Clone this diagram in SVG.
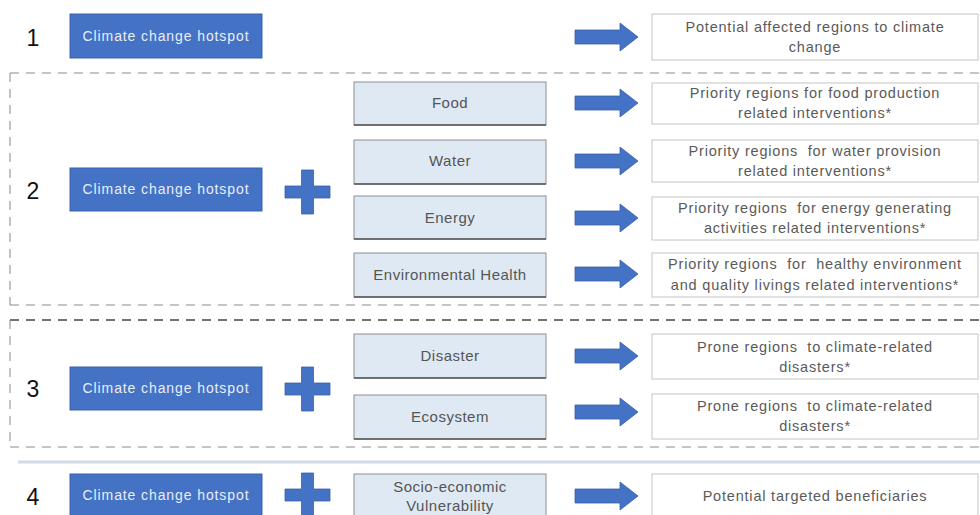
<svg xmlns="http://www.w3.org/2000/svg" xmlns:xlink="http://www.w3.org/1999/xlink" width="980" height="515" viewBox="0 0 980 515">
<style>
.num{font-family:"Liberation Sans",Arial,sans-serif;font-size:23px;fill:#111;text-anchor:middle}
.hot rect{fill:#4472C4;stroke:#3a63ad;stroke-width:1}
.hot text{font-family:"Liberation Sans",Arial,sans-serif;font-size:14px;letter-spacing:0.9px;fill:#e8eefa;text-anchor:middle}
.cat rect{fill:#dfe9f4;stroke:#8e8e8e;stroke-width:1}
.cat line{stroke:#555;stroke-width:1.5}
.cat text{font-family:"Liberation Sans",Arial,sans-serif;font-size:15px;letter-spacing:0.5px;fill:#555;text-anchor:middle}
.out rect{fill:#fff;stroke:#c4c4c4;stroke-width:1}
.out text{font-family:"Liberation Sans",Arial,sans-serif;font-size:14.5px;letter-spacing:0.8px;fill:#5a5a5a;text-anchor:middle;white-space:pre}
.dash{fill:none;stroke:#8a8a8a;stroke-width:1;stroke-dasharray:9 7}
.dashk{fill:none;stroke:#444;stroke-width:1.5;stroke-dasharray:9 7}
.blue{fill:#4472C4;stroke:#3760aa;stroke-width:0.8}
</style>
<defs>
<path id="arr" d="M0,-7 h45 v-7 l18,14 l-18,14 v-7 h-45 z"/>
<path id="plus" d="M-6,-22 h12 v16 h16.5 v12 h-16.5 v16 h-12 v-16 h-16.5 v-12 h16.5 z"/>
</defs>
<rect width="980" height="515" fill="#fff"/>

<!-- section frames -->
<g id="frames">
<line class="dash" x1="10" y1="73" x2="980" y2="73"/>
<line class="dash" x1="10" y1="73" x2="10" y2="305"/>
<line class="dash" x1="10" y1="305" x2="980" y2="305"/>
<line class="dashk" x1="10" y1="320" x2="980" y2="320"/>
<line class="dash" x1="10" y1="320" x2="10" y2="447"/>
<line class="dash" x1="10" y1="447" x2="980" y2="447"/>
<line x1="18" y1="462" x2="980" y2="462" stroke="#d3dae6" stroke-width="3"/>
</g>

<!-- numbers -->
<text class="num" x="33" y="46">1</text>
<text class="num" x="33" y="199">2</text>
<text class="num" x="33" y="397">3</text>
<text class="num" x="33" y="505">4</text>

<!-- hotspot nodes -->
<g id="hot1" class="hot"><rect x="70" y="14" width="192" height="44"/><text x="166" y="41">Climate change hotspot</text></g>
<g id="hot2" class="hot"><rect x="70" y="168" width="192" height="43"/><text x="166" y="194">Climate change hotspot</text></g>
<g id="hot3" class="hot"><rect x="70" y="367" width="192" height="43"/><text x="166" y="393">Climate change hotspot</text></g>
<g id="hot4" class="hot"><rect x="70" y="474" width="192" height="44"/><text x="166" y="500">Climate change hotspot</text></g>

<!-- plus signs -->
<g id="plus2"><use xlink:href="#plus" href="#plus" class="blue" x="307.5" y="192"/></g>
<g id="plus3"><use xlink:href="#plus" href="#plus" class="blue" x="307.5" y="389"/></g>
<g id="plus4"><use xlink:href="#plus" href="#plus" class="blue" x="307.5" y="495"/></g>

<!-- category nodes -->
<g id="food" class="cat"><rect x="354" y="82" width="192" height="43"/><line x1="354" y1="125" x2="546" y2="125"/><text x="450" y="108">Food</text></g>
<g id="water" class="cat"><rect x="354" y="140" width="192" height="44"/><line x1="354" y1="184" x2="546" y2="184"/><text x="450" y="166">Water</text></g>
<g id="energy" class="cat"><rect x="354" y="196" width="192" height="43"/><line x1="354" y1="239" x2="546" y2="239"/><text x="450" y="223">Energy</text></g>
<g id="envhealth" class="cat"><rect x="354" y="253" width="192" height="44"/><line x1="354" y1="297" x2="546" y2="297"/><text x="450" y="280">Environmental Health</text></g>
<g id="disaster" class="cat"><rect x="354" y="334" width="192" height="44"/><line x1="354" y1="378" x2="546" y2="378"/><text x="450" y="361">Disaster</text></g>
<g id="ecosystem" class="cat"><rect x="354" y="395" width="192" height="44"/><line x1="354" y1="439" x2="546" y2="439"/><text x="450" y="422">Ecosystem</text></g>
<g id="socio" class="cat"><rect x="354" y="474" width="192" height="45"/><text x="450" y="492">Socio-economic</text><text x="450" y="511">Vulnerability</text></g>

<!-- connectors -->
<g id="connectors" class="blue">
<use xlink:href="#arr" href="#arr" x="575" y="37"/>
<use xlink:href="#arr" href="#arr" x="575" y="103"/>
<use xlink:href="#arr" href="#arr" x="575" y="161"/>
<use xlink:href="#arr" href="#arr" x="575" y="218"/>
<use xlink:href="#arr" href="#arr" x="575" y="274"/>
<use xlink:href="#arr" href="#arr" x="575" y="356"/>
<use xlink:href="#arr" href="#arr" x="575" y="412"/>
<use xlink:href="#arr" href="#arr" x="575" y="496"/>
</g>

<!-- output nodes -->
<g id="out1" class="out"><rect x="652" y="14" width="326" height="46"/><text x="815" y="32">Potential affected regions to climate</text><text x="815" y="52">change</text></g>
<g id="out2" class="out"><rect x="652" y="83" width="326" height="41"/><text x="815" y="98">Priority regions for food production</text><text x="815" y="118">related interventions*</text></g>
<g id="out3" class="out"><rect x="652" y="140" width="326" height="42"/><text x="815" y="156">Priority regions  for water provision</text><text x="815" y="176">related interventions*</text></g>
<g id="out4" class="out"><rect x="652" y="197" width="326" height="43"/><text x="815" y="213">Priority regions  for energy generating</text><text x="815" y="233">activities related interventions*</text></g>
<g id="out5" class="out"><rect x="652" y="253" width="326" height="44"/><text x="815" y="269">Priority regions  for  healthy environment</text><text x="815" y="290">and quality livings related interventions*</text></g>
<g id="out6" class="out"><rect x="652" y="334" width="326" height="45"/><text x="815" y="352">Prone regions  to climate-related</text><text x="815" y="372">disasters*</text></g>
<g id="out7" class="out"><rect x="652" y="394" width="326" height="45"/><text x="815" y="411">Prone regions  to climate-related</text><text x="815" y="431">disasters*</text></g>
<g id="out8" class="out"><rect x="652" y="474" width="326" height="45"/><text x="815" y="501">Potential targeted beneficiaries</text></g>
</svg>
